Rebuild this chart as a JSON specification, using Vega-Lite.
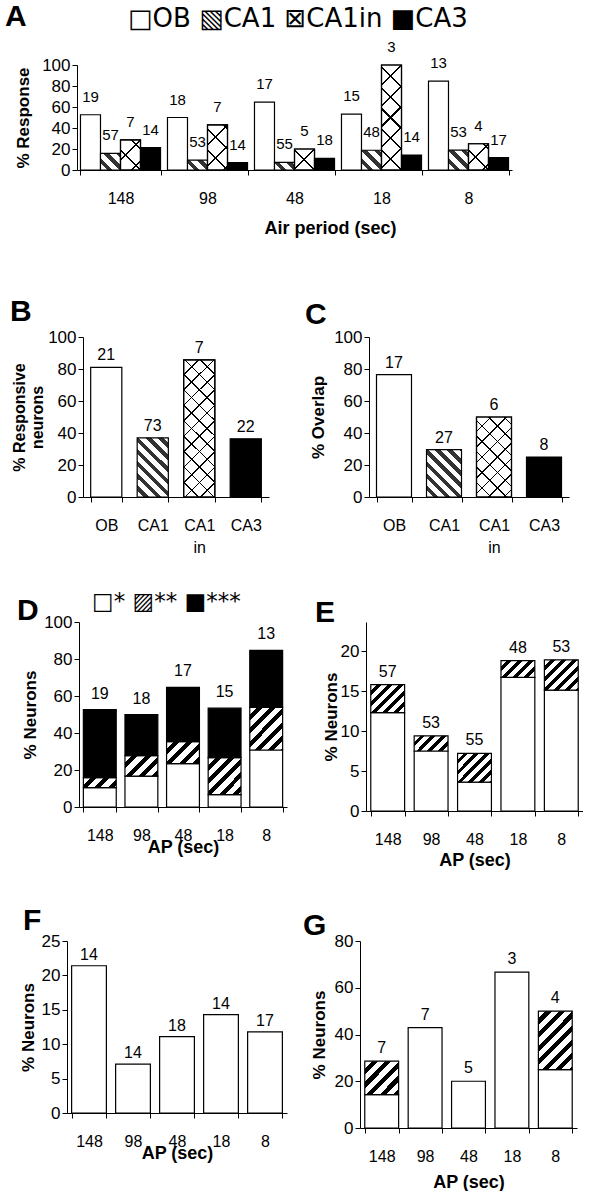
{
"$schema": "https://vega.github.io/schema/vega-lite/v6.json",
"background": "white",
"padding": {"left": 0, "top": 2, "right": 0, "bottom": 0},
"title": {"text": "□OB ▧CA1 ⊠CA1in ■CA3", "font": "DejaVu Sans", "fontSize": 26, "fontWeight": "normal", "anchor": "start", "frame": "group", "dx": 128, "dy": 30, "offset": 0},
"spacing": 0,
"vconcat": [
 {"bounds": "flush", "spacing": 76, "hconcat": [
  {"width": 1, "height": 232, "view": {"fill": "white", "stroke": null}, "data": {"values": []}, "mark": "point", "encoding": {}},
  {"width": 435, "height": 105,
   "title": {"text": "A", "dx": -72, "dy": -4},
   "data": {"name": "A"},
   "encoding": {
    "x": {"field": "ap", "type": "nominal", "sort": ["148","98","48","18","8"], "scale": {"paddingInner": 0.08, "paddingOuter": 0.04}, "axis": {"title": "Air period (sec)", "titleFontSize": 18, "titlePadding": 13, "titleX": 253}},
    "xOffset": {"field": "series", "type": "nominal", "scale": {"domain": ["OB","CA1","CA1in","CA3"], "paddingInner": 0, "paddingOuter": 0}},
    "y": {"field": "value", "type": "quantitative", "scale": {"domain": [0,100], "nice": false}, "axis": {"values": [0,20,40,60,80,100], "title": "% Response", "titlePadding": 9}}
   },
   "layer": [
    {"mark": "bar", "encoding": {"fill": {"condition": [
      {"test": "datum.series == 'CA3'", "value": "black"},
      {"test": "datum.series == 'CA1'", "value": {"expr": "{gradient:'linear',x1:0,y1:1,x2:6.25/(1+pow(datum.value*0.0525,2)),y2:1-datum.value*0.0525*6.25/(1+pow(datum.value*0.0525,2)),stops:[{offset:0,color:'#fff'},{offset:0.055,color:'#fff'},{offset:0.055,color:'#333'},{offset:0.1,color:'#333'},{offset:0.1,color:'#fff'},{offset:0.155,color:'#fff'},{offset:0.155,color:'#333'},{offset:0.2,color:'#333'},{offset:0.2,color:'#fff'},{offset:0.255,color:'#fff'},{offset:0.255,color:'#333'},{offset:0.3,color:'#333'},{offset:0.3,color:'#fff'},{offset:0.355,color:'#fff'},{offset:0.355,color:'#333'},{offset:0.4,color:'#333'},{offset:0.4,color:'#fff'},{offset:0.455,color:'#fff'},{offset:0.455,color:'#333'},{offset:0.5,color:'#333'},{offset:0.5,color:'#fff'},{offset:0.555,color:'#fff'},{offset:0.555,color:'#333'},{offset:0.6,color:'#333'},{offset:0.6,color:'#fff'},{offset:0.655,color:'#fff'},{offset:0.655,color:'#333'},{offset:0.7,color:'#333'},{offset:0.7,color:'#fff'},{offset:0.755,color:'#fff'},{offset:0.755,color:'#333'},{offset:0.8,color:'#333'},{offset:0.8,color:'#fff'},{offset:0.855,color:'#fff'},{offset:0.855,color:'#333'},{offset:0.9,color:'#333'},{offset:0.9,color:'#fff'},{offset:0.955,color:'#fff'},{offset:0.955,color:'#333'},{offset:1,color:'#333'}]}"}},
      {"test": "datum.series == 'CA1in'", "value": {"expr": "{gradient:'linear',x1:0,y1:1,x2:6.25/(1+pow(datum.value*0.0525,2)),y2:1-datum.value*0.0525*6.25/(1+pow(datum.value*0.0525,2)),stops:[{offset:0,color:'#fff'},{offset:0.15,color:'#fff'},{offset:0.15,color:'#000'},{offset:0.1667,color:'#000'},{offset:0.1667,color:'#fff'},{offset:0.3167,color:'#fff'},{offset:0.3167,color:'#000'},{offset:0.3333,color:'#000'},{offset:0.3333,color:'#fff'},{offset:0.4833,color:'#fff'},{offset:0.4833,color:'#000'},{offset:0.5,color:'#000'},{offset:0.5,color:'#fff'},{offset:0.65,color:'#fff'},{offset:0.65,color:'#000'},{offset:0.6667,color:'#000'},{offset:0.6667,color:'#fff'},{offset:0.8167,color:'#fff'},{offset:0.8167,color:'#000'},{offset:0.8333,color:'#000'},{offset:0.8333,color:'#fff'},{offset:0.9833,color:'#fff'},{offset:0.9833,color:'#000'},{offset:1,color:'#000'}]}"}}
     ], "value": "white"}}},
    {"transform": [{"filter": "datum.series == 'CA1in'"}], "mark": "bar", "encoding": {"fill": {"value": {"expr": "{gradient:'linear',x1:0,y1:0,x2:6.25/(1+pow(datum.value*0.0525,2)),y2:datum.value*0.0525*6.25/(1+pow(datum.value*0.0525,2)),stops:[{offset:0,color:'rgba(0,0,0,0)'},{offset:0.15,color:'rgba(0,0,0,0)'},{offset:0.15,color:'#000'},{offset:0.1667,color:'#000'},{offset:0.1667,color:'rgba(0,0,0,0)'},{offset:0.3167,color:'rgba(0,0,0,0)'},{offset:0.3167,color:'#000'},{offset:0.3333,color:'#000'},{offset:0.3333,color:'rgba(0,0,0,0)'},{offset:0.4833,color:'rgba(0,0,0,0)'},{offset:0.4833,color:'#000'},{offset:0.5,color:'#000'},{offset:0.5,color:'rgba(0,0,0,0)'},{offset:0.65,color:'rgba(0,0,0,0)'},{offset:0.65,color:'#000'},{offset:0.6667,color:'#000'},{offset:0.6667,color:'rgba(0,0,0,0)'},{offset:0.8167,color:'rgba(0,0,0,0)'},{offset:0.8167,color:'#000'},{offset:0.8333,color:'#000'},{offset:0.8333,color:'rgba(0,0,0,0)'},{offset:0.9833,color:'rgba(0,0,0,0)'},{offset:0.9833,color:'#000'},{offset:1,color:'#000'}]}"}}}},
    {"mark": {"type": "text", "baseline": "bottom", "dy": -10, "fontSize": 15}, "encoding": {"text": {"field": "n", "type": "quantitative"}}}
   ]
  }
 ]},
 {"bounds": "flush", "spacing": 82, "hconcat": [
  {"width": 1, "height": 254, "view": {"fill": "white", "stroke": null}, "data": {"values": []}, "mark": "point", "encoding": {}},
  {"bounds": "flush", "spacing": 100, "hconcat": [
   {"width": 186, "height": 160,
    "title": {"text": "B", "dx": -73, "dy": 3},
    "data": {"name": "B"},
    "encoding": {
     "x": {"field": "series", "type": "nominal", "sort": ["OB","CA1","CA1in","CA3"], "scale": {"paddingInner": 0.33, "paddingOuter": 0.165}, "axis": {"title": null, "labelExpr": "datum.value == 'CA1in' ? ['CA1', 'in'] : datum.label", "labelLineHeight": 22}},
     "y": {"field": "value", "type": "quantitative", "scale": {"domain": [0,100], "nice": false}, "axis": {"values": [0,20,40,60,80,100], "title": ["% Responsive", "neurons"], "titleFontSize": 16, "titlePadding": 2}}
    },
    "layer": [
     {"mark": "bar", "encoding": {"fill": {"condition": [
       {"test": "datum.series == 'CA3'", "value": "black"},
       {"test": "datum.series == 'CA1'", "value": {"expr": "{gradient:'linear',x1:0,y1:1,x2:5.4839/(1+pow(datum.value*0.051613,2)),y2:1-datum.value*0.051613*5.4839/(1+pow(datum.value*0.051613,2)),stops:[{offset:0,color:'#fff'},{offset:0.0393,color:'#fff'},{offset:0.0393,color:'#333'},{offset:0.0714,color:'#333'},{offset:0.0714,color:'#fff'},{offset:0.1107,color:'#fff'},{offset:0.1107,color:'#333'},{offset:0.1429,color:'#333'},{offset:0.1429,color:'#fff'},{offset:0.1821,color:'#fff'},{offset:0.1821,color:'#333'},{offset:0.2143,color:'#333'},{offset:0.2143,color:'#fff'},{offset:0.2536,color:'#fff'},{offset:0.2536,color:'#333'},{offset:0.2857,color:'#333'},{offset:0.2857,color:'#fff'},{offset:0.325,color:'#fff'},{offset:0.325,color:'#333'},{offset:0.3571,color:'#333'},{offset:0.3571,color:'#fff'},{offset:0.3964,color:'#fff'},{offset:0.3964,color:'#333'},{offset:0.4286,color:'#333'},{offset:0.4286,color:'#fff'},{offset:0.4679,color:'#fff'},{offset:0.4679,color:'#333'},{offset:0.5,color:'#333'},{offset:0.5,color:'#fff'},{offset:0.5393,color:'#fff'},{offset:0.5393,color:'#333'},{offset:0.5714,color:'#333'},{offset:0.5714,color:'#fff'},{offset:0.6107,color:'#fff'},{offset:0.6107,color:'#333'},{offset:0.6429,color:'#333'},{offset:0.6429,color:'#fff'},{offset:0.6821,color:'#fff'},{offset:0.6821,color:'#333'},{offset:0.7143,color:'#333'},{offset:0.7143,color:'#fff'},{offset:0.7536,color:'#fff'},{offset:0.7536,color:'#333'},{offset:0.7857,color:'#333'},{offset:0.7857,color:'#fff'},{offset:0.825,color:'#fff'},{offset:0.825,color:'#333'},{offset:0.8571,color:'#333'},{offset:0.8571,color:'#fff'},{offset:0.8964,color:'#fff'},{offset:0.8964,color:'#333'},{offset:0.9286,color:'#333'},{offset:0.9286,color:'#fff'},{offset:0.9679,color:'#fff'},{offset:0.9679,color:'#333'},{offset:1,color:'#333'}]}"}},
       {"test": "datum.series == 'CA1in'", "value": {"expr": "{gradient:'linear',x1:0,y1:1,x2:5.4839/(1+pow(datum.value*0.051613,2)),y2:1-datum.value*0.051613*5.4839/(1+pow(datum.value*0.051613,2)),stops:[{offset:0,color:'#fff'},{offset:0.0818,color:'#fff'},{offset:0.0818,color:'#000'},{offset:0.0909,color:'#000'},{offset:0.0909,color:'#fff'},{offset:0.1727,color:'#fff'},{offset:0.1727,color:'#000'},{offset:0.1818,color:'#000'},{offset:0.1818,color:'#fff'},{offset:0.2636,color:'#fff'},{offset:0.2636,color:'#000'},{offset:0.2727,color:'#000'},{offset:0.2727,color:'#fff'},{offset:0.3545,color:'#fff'},{offset:0.3545,color:'#000'},{offset:0.3636,color:'#000'},{offset:0.3636,color:'#fff'},{offset:0.4455,color:'#fff'},{offset:0.4455,color:'#000'},{offset:0.4545,color:'#000'},{offset:0.4545,color:'#fff'},{offset:0.5364,color:'#fff'},{offset:0.5364,color:'#000'},{offset:0.5455,color:'#000'},{offset:0.5455,color:'#fff'},{offset:0.6273,color:'#fff'},{offset:0.6273,color:'#000'},{offset:0.6364,color:'#000'},{offset:0.6364,color:'#fff'},{offset:0.7182,color:'#fff'},{offset:0.7182,color:'#000'},{offset:0.7273,color:'#000'},{offset:0.7273,color:'#fff'},{offset:0.8091,color:'#fff'},{offset:0.8091,color:'#000'},{offset:0.8182,color:'#000'},{offset:0.8182,color:'#fff'},{offset:0.9,color:'#fff'},{offset:0.9,color:'#000'},{offset:0.9091,color:'#000'},{offset:0.9091,color:'#fff'},{offset:0.9909,color:'#fff'},{offset:0.9909,color:'#000'},{offset:1,color:'#000'}]}"}}
      ], "value": "white"}}},
     {"transform": [{"filter": "datum.series == 'CA1in'"}], "mark": "bar", "encoding": {"fill": {"value": {"expr": "{gradient:'linear',x1:0,y1:0,x2:5.4839/(1+pow(datum.value*0.051613,2)),y2:datum.value*0.051613*5.4839/(1+pow(datum.value*0.051613,2)),stops:[{offset:0,color:'rgba(0,0,0,0)'},{offset:0.0818,color:'rgba(0,0,0,0)'},{offset:0.0818,color:'#000'},{offset:0.0909,color:'#000'},{offset:0.0909,color:'rgba(0,0,0,0)'},{offset:0.1727,color:'rgba(0,0,0,0)'},{offset:0.1727,color:'#000'},{offset:0.1818,color:'#000'},{offset:0.1818,color:'rgba(0,0,0,0)'},{offset:0.2636,color:'rgba(0,0,0,0)'},{offset:0.2636,color:'#000'},{offset:0.2727,color:'#000'},{offset:0.2727,color:'rgba(0,0,0,0)'},{offset:0.3545,color:'rgba(0,0,0,0)'},{offset:0.3545,color:'#000'},{offset:0.3636,color:'#000'},{offset:0.3636,color:'rgba(0,0,0,0)'},{offset:0.4455,color:'rgba(0,0,0,0)'},{offset:0.4455,color:'#000'},{offset:0.4545,color:'#000'},{offset:0.4545,color:'rgba(0,0,0,0)'},{offset:0.5364,color:'rgba(0,0,0,0)'},{offset:0.5364,color:'#000'},{offset:0.5455,color:'#000'},{offset:0.5455,color:'rgba(0,0,0,0)'},{offset:0.6273,color:'rgba(0,0,0,0)'},{offset:0.6273,color:'#000'},{offset:0.6364,color:'#000'},{offset:0.6364,color:'rgba(0,0,0,0)'},{offset:0.7182,color:'rgba(0,0,0,0)'},{offset:0.7182,color:'#000'},{offset:0.7273,color:'#000'},{offset:0.7273,color:'rgba(0,0,0,0)'},{offset:0.8091,color:'rgba(0,0,0,0)'},{offset:0.8091,color:'#000'},{offset:0.8182,color:'#000'},{offset:0.8182,color:'rgba(0,0,0,0)'},{offset:0.9,color:'rgba(0,0,0,0)'},{offset:0.9,color:'#000'},{offset:0.9091,color:'#000'},{offset:0.9091,color:'rgba(0,0,0,0)'},{offset:0.9909,color:'rgba(0,0,0,0)'},{offset:0.9909,color:'#000'},{offset:1,color:'#000'}]}"}}}},
     {"mark": {"type": "text", "baseline": "bottom", "dy": -4}, "encoding": {"text": {"field": "n", "type": "quantitative"}}}
    ]
   },
   {"width": 200, "height": 160,
    "title": {"text": "C", "dx": -64, "dy": 6},
    "data": {"name": "C"},
    "encoding": {
     "x": {"field": "series", "type": "nominal", "sort": ["OB","CA1","CA1in","CA3"], "scale": {"paddingInner": 0.3, "paddingOuter": 0.15}, "axis": {"title": null, "labelExpr": "datum.value == 'CA1in' ? ['CA1', 'in'] : datum.label", "labelLineHeight": 22}},
     "y": {"field": "value", "type": "quantitative", "scale": {"domain": [0,100], "nice": false}, "axis": {"values": [0,20,40,60,80,100], "title": "% Overlap", "titlePadding": 6}}
    },
    "layer": [
     {"mark": "bar", "encoding": {"fill": {"condition": [
       {"test": "datum.series == 'CA3'", "value": "black"},
       {"test": "datum.series == 'CA1'", "value": {"expr": "{gradient:'linear',x1:0,y1:1,x2:4.8571/(1+pow(datum.value*0.045714,2)),y2:1-datum.value*0.045714*4.8571/(1+pow(datum.value*0.045714,2)),stops:[{offset:0,color:'#fff'},{offset:0.0393,color:'#fff'},{offset:0.0393,color:'#333'},{offset:0.0714,color:'#333'},{offset:0.0714,color:'#fff'},{offset:0.1107,color:'#fff'},{offset:0.1107,color:'#333'},{offset:0.1429,color:'#333'},{offset:0.1429,color:'#fff'},{offset:0.1821,color:'#fff'},{offset:0.1821,color:'#333'},{offset:0.2143,color:'#333'},{offset:0.2143,color:'#fff'},{offset:0.2536,color:'#fff'},{offset:0.2536,color:'#333'},{offset:0.2857,color:'#333'},{offset:0.2857,color:'#fff'},{offset:0.325,color:'#fff'},{offset:0.325,color:'#333'},{offset:0.3571,color:'#333'},{offset:0.3571,color:'#fff'},{offset:0.3964,color:'#fff'},{offset:0.3964,color:'#333'},{offset:0.4286,color:'#333'},{offset:0.4286,color:'#fff'},{offset:0.4679,color:'#fff'},{offset:0.4679,color:'#333'},{offset:0.5,color:'#333'},{offset:0.5,color:'#fff'},{offset:0.5393,color:'#fff'},{offset:0.5393,color:'#333'},{offset:0.5714,color:'#333'},{offset:0.5714,color:'#fff'},{offset:0.6107,color:'#fff'},{offset:0.6107,color:'#333'},{offset:0.6429,color:'#333'},{offset:0.6429,color:'#fff'},{offset:0.6821,color:'#fff'},{offset:0.6821,color:'#333'},{offset:0.7143,color:'#333'},{offset:0.7143,color:'#fff'},{offset:0.7536,color:'#fff'},{offset:0.7536,color:'#333'},{offset:0.7857,color:'#333'},{offset:0.7857,color:'#fff'},{offset:0.825,color:'#fff'},{offset:0.825,color:'#333'},{offset:0.8571,color:'#333'},{offset:0.8571,color:'#fff'},{offset:0.8964,color:'#fff'},{offset:0.8964,color:'#333'},{offset:0.9286,color:'#333'},{offset:0.9286,color:'#fff'},{offset:0.9679,color:'#fff'},{offset:0.9679,color:'#333'},{offset:1,color:'#333'}]}"}},
       {"test": "datum.series == 'CA1in'", "value": {"expr": "{gradient:'linear',x1:0,y1:1,x2:4.8571/(1+pow(datum.value*0.045714,2)),y2:1-datum.value*0.045714*4.8571/(1+pow(datum.value*0.045714,2)),stops:[{offset:0,color:'#fff'},{offset:0.0818,color:'#fff'},{offset:0.0818,color:'#000'},{offset:0.0909,color:'#000'},{offset:0.0909,color:'#fff'},{offset:0.1727,color:'#fff'},{offset:0.1727,color:'#000'},{offset:0.1818,color:'#000'},{offset:0.1818,color:'#fff'},{offset:0.2636,color:'#fff'},{offset:0.2636,color:'#000'},{offset:0.2727,color:'#000'},{offset:0.2727,color:'#fff'},{offset:0.3545,color:'#fff'},{offset:0.3545,color:'#000'},{offset:0.3636,color:'#000'},{offset:0.3636,color:'#fff'},{offset:0.4455,color:'#fff'},{offset:0.4455,color:'#000'},{offset:0.4545,color:'#000'},{offset:0.4545,color:'#fff'},{offset:0.5364,color:'#fff'},{offset:0.5364,color:'#000'},{offset:0.5455,color:'#000'},{offset:0.5455,color:'#fff'},{offset:0.6273,color:'#fff'},{offset:0.6273,color:'#000'},{offset:0.6364,color:'#000'},{offset:0.6364,color:'#fff'},{offset:0.7182,color:'#fff'},{offset:0.7182,color:'#000'},{offset:0.7273,color:'#000'},{offset:0.7273,color:'#fff'},{offset:0.8091,color:'#fff'},{offset:0.8091,color:'#000'},{offset:0.8182,color:'#000'},{offset:0.8182,color:'#fff'},{offset:0.9,color:'#fff'},{offset:0.9,color:'#000'},{offset:0.9091,color:'#000'},{offset:0.9091,color:'#fff'},{offset:0.9909,color:'#fff'},{offset:0.9909,color:'#000'},{offset:1,color:'#000'}]}"}}
      ], "value": "white"}}},
     {"transform": [{"filter": "datum.series == 'CA1in'"}], "mark": "bar", "encoding": {"fill": {"value": {"expr": "{gradient:'linear',x1:0,y1:0,x2:4.8571/(1+pow(datum.value*0.045714,2)),y2:datum.value*0.045714*4.8571/(1+pow(datum.value*0.045714,2)),stops:[{offset:0,color:'rgba(0,0,0,0)'},{offset:0.0818,color:'rgba(0,0,0,0)'},{offset:0.0818,color:'#000'},{offset:0.0909,color:'#000'},{offset:0.0909,color:'rgba(0,0,0,0)'},{offset:0.1727,color:'rgba(0,0,0,0)'},{offset:0.1727,color:'#000'},{offset:0.1818,color:'#000'},{offset:0.1818,color:'rgba(0,0,0,0)'},{offset:0.2636,color:'rgba(0,0,0,0)'},{offset:0.2636,color:'#000'},{offset:0.2727,color:'#000'},{offset:0.2727,color:'rgba(0,0,0,0)'},{offset:0.3545,color:'rgba(0,0,0,0)'},{offset:0.3545,color:'#000'},{offset:0.3636,color:'#000'},{offset:0.3636,color:'rgba(0,0,0,0)'},{offset:0.4455,color:'rgba(0,0,0,0)'},{offset:0.4455,color:'#000'},{offset:0.4545,color:'#000'},{offset:0.4545,color:'rgba(0,0,0,0)'},{offset:0.5364,color:'rgba(0,0,0,0)'},{offset:0.5364,color:'#000'},{offset:0.5455,color:'#000'},{offset:0.5455,color:'rgba(0,0,0,0)'},{offset:0.6273,color:'rgba(0,0,0,0)'},{offset:0.6273,color:'#000'},{offset:0.6364,color:'#000'},{offset:0.6364,color:'rgba(0,0,0,0)'},{offset:0.7182,color:'rgba(0,0,0,0)'},{offset:0.7182,color:'#000'},{offset:0.7273,color:'#000'},{offset:0.7273,color:'rgba(0,0,0,0)'},{offset:0.8091,color:'rgba(0,0,0,0)'},{offset:0.8091,color:'#000'},{offset:0.8182,color:'#000'},{offset:0.8182,color:'rgba(0,0,0,0)'},{offset:0.9,color:'rgba(0,0,0,0)'},{offset:0.9,color:'#000'},{offset:0.9091,color:'#000'},{offset:0.9091,color:'rgba(0,0,0,0)'},{offset:0.9909,color:'rgba(0,0,0,0)'},{offset:0.9909,color:'#000'},{offset:1,color:'#000'}]}"}}}},
     {"mark": {"type": "text", "baseline": "bottom", "dy": -4}, "encoding": {"text": {"field": "n", "type": "quantitative"}}}
    ]
   }
  ]}
 ]},
 {"bounds": "flush", "spacing": 78, "hconcat": [
  {"width": 1, "height": 284, "view": {"fill": "white", "stroke": null}, "data": {"values": []}, "mark": "point", "encoding": {}},
  {"bounds": "flush", "spacing": 79,
   "title": {"text": "□*  ▨**  ■***", "font": "DejaVu Sans", "fontSize": 23, "fontWeight": "normal", "anchor": "start", "frame": "group", "dx": 13, "dy": 18, "offset": 0},
   "hconcat": [
   {"width": 208, "height": 185,
    "title": {"text": "D", "dx": -62, "dy": 17},
    "data": {"name": "D"},
    "encoding": {
     "x": {"field": "ap", "type": "nominal", "sort": ["148","98","48","18","8"], "scale": {"paddingInner": 0.21, "paddingOuter": 0.105}, "axis": {"title": "AP (sec)", "titleFontSize": 18, "titlePadding": -5}}
    },
    "layer": [
     {"mark": "bar", "encoding": {
       "y": {"field": "value", "type": "quantitative", "stack": "zero", "scale": {"domain": [0,100], "nice": false}, "axis": {"values": [0,20,40,60,80,100], "title": "% Neurons", "titlePadding": 4}},
       "detail": {"field": "sig", "type": "nominal"},
       "order": {"field": "sig", "type": "ordinal", "sort": "ascending"},
       "fill": {"condition": [
        {"test": "datum.sig == '***'", "value": "black"},
        {"test": "datum.sig == '**'", "value": {"expr": "{gradient:'linear',x1:0,y1:0,x2:2.4242/(1+pow(datum.value*0.05606,2)),y2:datum.value*0.05606*2.4242/(1+pow(datum.value*0.05606,2)),stops:[{offset:0,color:'#fff'},{offset:0.0917,color:'#fff'},{offset:0.0917,color:'#000'},{offset:0.1667,color:'#000'},{offset:0.1667,color:'#fff'},{offset:0.2583,color:'#fff'},{offset:0.2583,color:'#000'},{offset:0.3333,color:'#000'},{offset:0.3333,color:'#fff'},{offset:0.425,color:'#fff'},{offset:0.425,color:'#000'},{offset:0.5,color:'#000'},{offset:0.5,color:'#fff'},{offset:0.5917,color:'#fff'},{offset:0.5917,color:'#000'},{offset:0.6667,color:'#000'},{offset:0.6667,color:'#fff'},{offset:0.7583,color:'#fff'},{offset:0.7583,color:'#000'},{offset:0.8333,color:'#000'},{offset:0.8333,color:'#fff'},{offset:0.925,color:'#fff'},{offset:0.925,color:'#000'},{offset:1,color:'#000'}]}"}}
       ], "value": "white"}
     }},
     {"mark": {"type": "text", "baseline": "bottom", "dy": -8}, "encoding": {
       "y": {"aggregate": "sum", "field": "value", "type": "quantitative", "axis": {"values": [0,20,40,60,80,100], "title": "% Neurons", "titlePadding": 4}},
       "text": {"aggregate": "max", "field": "n", "type": "quantitative"}
     }}
    ]
   },
   {"width": 217, "height": 189,
    "title": {"text": "E", "dx": -51, "dy": 10},
    "data": {"name": "E"},
    "encoding": {
     "x": {"field": "ap", "type": "nominal", "sort": ["148","98","48","18","8"], "scale": {"paddingInner": 0.22, "paddingOuter": 0.11}, "axis": {"title": "AP (sec)", "titleFontSize": 18, "titlePadding": 4}}
    },
    "layer": [
     {"mark": "bar", "encoding": {
       "y": {"field": "value", "type": "quantitative", "stack": "zero", "scale": {"domain": [0,23.625], "nice": false}, "axis": {"values": [0,5,10,15,20], "title": "% Neurons", "titlePadding": 0}},
       "detail": {"field": "sig", "type": "nominal"},
       "order": {"field": "sig", "type": "ordinal", "sort": "ascending"},
       "fill": {"condition": [
        {"test": "datum.sig == '**'", "value": {"expr": "{gradient:'linear',x1:0,y1:0,x2:1.9412/(1+pow(datum.value*0.23529,2)),y2:datum.value*0.23529*1.9412/(1+pow(datum.value*0.23529,2)),stops:[{offset:0,color:'#fff'},{offset:0.0917,color:'#fff'},{offset:0.0917,color:'#000'},{offset:0.1667,color:'#000'},{offset:0.1667,color:'#fff'},{offset:0.2583,color:'#fff'},{offset:0.2583,color:'#000'},{offset:0.3333,color:'#000'},{offset:0.3333,color:'#fff'},{offset:0.425,color:'#fff'},{offset:0.425,color:'#000'},{offset:0.5,color:'#000'},{offset:0.5,color:'#fff'},{offset:0.5917,color:'#fff'},{offset:0.5917,color:'#000'},{offset:0.6667,color:'#000'},{offset:0.6667,color:'#fff'},{offset:0.7583,color:'#fff'},{offset:0.7583,color:'#000'},{offset:0.8333,color:'#000'},{offset:0.8333,color:'#fff'},{offset:0.925,color:'#fff'},{offset:0.925,color:'#000'},{offset:1,color:'#000'}]}"}}
       ], "value": "white"}
     }},
     {"mark": {"type": "text", "baseline": "bottom", "dy": -5}, "encoding": {
       "y": {"aggregate": "sum", "field": "value", "type": "quantitative", "axis": {"values": [0,5,10,15,20], "title": "% Neurons", "titlePadding": 0}},
       "text": {"aggregate": "max", "field": "n", "type": "quantitative"}
     }}
    ]
   }
  ]}
 ]},
 {"bounds": "flush", "spacing": 66, "hconcat": [
  {"width": 1, "height": 1, "view": {"fill": "white", "stroke": null}, "data": {"values": []}, "mark": "point", "encoding": {}},
  {"bounds": "flush", "spacing": 73, "hconcat": [
   {"width": 220, "height": 172,
    "title": {"text": "F", "dx": -44, "dy": 8},
    "data": {"name": "F"},
    "encoding": {
     "x": {"field": "ap", "type": "nominal", "sort": ["148","98","48","18","8"], "scale": {"paddingInner": 0.21, "paddingOuter": 0.105}, "axis": {"title": "AP (sec)", "titleFontSize": 18, "titlePadding": -5}},
     "y": {"field": "value", "type": "quantitative", "scale": {"domain": [0,25], "nice": false}, "axis": {"values": [0,5,10,15,20,25], "title": "% Neurons", "titlePadding": 4}}
    },
    "layer": [
     {"mark": {"type": "bar", "fill": "white"}},
     {"mark": {"type": "text", "baseline": "bottom", "dy": -3}, "encoding": {"text": {"field": "n", "type": "quantitative"}}}
    ]
   },
   {"width": 217, "height": 187,
    "title": {"text": "G", "dx": -57, "dy": 13},
    "data": {"name": "G"},
    "encoding": {
     "x": {"field": "ap", "type": "nominal", "sort": ["148","98","48","18","8"], "scale": {"paddingInner": 0.22, "paddingOuter": 0.11}, "axis": {"title": "AP (sec)", "titleFontSize": 18, "titlePadding": 9}}
    },
    "layer": [
     {"mark": "bar", "encoding": {
       "y": {"field": "value", "type": "quantitative", "stack": "zero", "scale": {"domain": [0,80], "nice": false}, "axis": {"values": [0,20,40,60,80], "title": "% Neurons", "titlePadding": 6}},
       "detail": {"field": "sig", "type": "nominal"},
       "order": {"field": "sig", "type": "ordinal", "sort": "ascending"},
       "fill": {"condition": [
        {"test": "datum.sig == '**'", "value": {"expr": "{gradient:'linear',x1:0,y1:0,x2:2.7941/(1+pow(datum.value*0.06875,2)),y2:datum.value*0.06875*2.7941/(1+pow(datum.value*0.06875,2)),stops:[{offset:0,color:'#fff'},{offset:0.0786,color:'#fff'},{offset:0.0786,color:'#000'},{offset:0.1429,color:'#000'},{offset:0.1429,color:'#fff'},{offset:0.2214,color:'#fff'},{offset:0.2214,color:'#000'},{offset:0.2857,color:'#000'},{offset:0.2857,color:'#fff'},{offset:0.3643,color:'#fff'},{offset:0.3643,color:'#000'},{offset:0.4286,color:'#000'},{offset:0.4286,color:'#fff'},{offset:0.5071,color:'#fff'},{offset:0.5071,color:'#000'},{offset:0.5714,color:'#000'},{offset:0.5714,color:'#fff'},{offset:0.65,color:'#fff'},{offset:0.65,color:'#000'},{offset:0.7143,color:'#000'},{offset:0.7143,color:'#fff'},{offset:0.7929,color:'#fff'},{offset:0.7929,color:'#000'},{offset:0.8571,color:'#000'},{offset:0.8571,color:'#fff'},{offset:0.9357,color:'#fff'},{offset:0.9357,color:'#000'},{offset:1,color:'#000'}]}"}}
       ], "value": "white"}
     }},
     {"mark": {"type": "text", "baseline": "bottom", "dy": -5}, "encoding": {
       "y": {"aggregate": "sum", "field": "value", "type": "quantitative", "axis": {"values": [0,20,40,60,80], "title": "% Neurons", "titlePadding": 6}},
       "text": {"aggregate": "max", "field": "n", "type": "quantitative"}
     }}
    ]
   }
  ]}
 ]}
],
"datasets": {
 "A": [
  {"ap":"148","series":"OB","value":52.6,"n":19},
  {"ap":"148","series":"CA1","value":15.8,"n":57},
  {"ap":"148","series":"CA1in","value":28.6,"n":7},
  {"ap":"148","series":"CA3","value":21.4,"n":14},
  {"ap":"98","series":"OB","value":50.0,"n":18},
  {"ap":"98","series":"CA1","value":9.4,"n":53},
  {"ap":"98","series":"CA1in","value":42.9,"n":7},
  {"ap":"98","series":"CA3","value":7.1,"n":14},
  {"ap":"48","series":"OB","value":64.7,"n":17},
  {"ap":"48","series":"CA1","value":7.3,"n":55},
  {"ap":"48","series":"CA1in","value":20.0,"n":5},
  {"ap":"48","series":"CA3","value":11.1,"n":18},
  {"ap":"18","series":"OB","value":53.3,"n":15},
  {"ap":"18","series":"CA1","value":18.8,"n":48},
  {"ap":"18","series":"CA1in","value":100,"n":3},
  {"ap":"18","series":"CA3","value":14.3,"n":14},
  {"ap":"8","series":"OB","value":84.6,"n":13},
  {"ap":"8","series":"CA1","value":18.9,"n":53},
  {"ap":"8","series":"CA1in","value":25.0,"n":4},
  {"ap":"8","series":"CA3","value":11.8,"n":17}
 ],
 "B": [
  {"series":"OB","value":81.0,"n":21},
  {"series":"CA1","value":37.0,"n":73},
  {"series":"CA1in","value":85.7,"n":7},
  {"series":"CA3","value":36.4,"n":22}
 ],
 "C": [
  {"series":"OB","value":76.5,"n":17},
  {"series":"CA1","value":29.6,"n":27},
  {"series":"CA1in","value":50.0,"n":6},
  {"series":"CA3","value":25.0,"n":8}
 ],
 "D": [
  {"ap":"148","sig":"*","value":10.5,"n":19},
  {"ap":"148","sig":"**","value":5.3,"n":19},
  {"ap":"148","sig":"***","value":36.8,"n":19},
  {"ap":"98","sig":"*","value":16.7,"n":18},
  {"ap":"98","sig":"**","value":11.1,"n":18},
  {"ap":"98","sig":"***","value":22.2,"n":18},
  {"ap":"48","sig":"*","value":23.5,"n":17},
  {"ap":"48","sig":"**","value":11.8,"n":17},
  {"ap":"48","sig":"***","value":29.4,"n":17},
  {"ap":"18","sig":"*","value":6.7,"n":15},
  {"ap":"18","sig":"**","value":20.0,"n":15},
  {"ap":"18","sig":"***","value":26.7,"n":15},
  {"ap":"8","sig":"*","value":30.8,"n":13},
  {"ap":"8","sig":"**","value":23.1,"n":13},
  {"ap":"8","sig":"***","value":30.8,"n":13}
 ],
 "E": [
  {"ap":"148","sig":"*","value":12.3,"n":57},
  {"ap":"148","sig":"**","value":3.5,"n":57},
  {"ap":"98","sig":"*","value":7.5,"n":53},
  {"ap":"98","sig":"**","value":1.9,"n":53},
  {"ap":"48","sig":"*","value":3.6,"n":55},
  {"ap":"48","sig":"**","value":3.6,"n":55},
  {"ap":"18","sig":"*","value":16.7,"n":48},
  {"ap":"18","sig":"**","value":2.1,"n":48},
  {"ap":"8","sig":"*","value":15.1,"n":53},
  {"ap":"8","sig":"**","value":3.8,"n":53}
 ],
 "F": [
  {"ap":"148","value":21.4,"n":14},
  {"ap":"98","value":7.1,"n":14},
  {"ap":"48","value":11.1,"n":18},
  {"ap":"18","value":14.3,"n":14},
  {"ap":"8","value":11.8,"n":17}
 ],
 "G": [
  {"ap":"148","sig":"*","value":14.3,"n":7},
  {"ap":"148","sig":"**","value":14.3,"n":7},
  {"ap":"98","sig":"*","value":42.9,"n":7},
  {"ap":"48","sig":"*","value":20.0,"n":5},
  {"ap":"18","sig":"*","value":66.7,"n":3},
  {"ap":"8","sig":"*","value":25.0,"n":4},
  {"ap":"8","sig":"**","value":25.0,"n":4}
 ]
},
"config": {
 "view": {"stroke": null},
 "font": "Liberation Sans",
 "axis": {"grid": false, "domainColor": "black", "tickColor": "black", "labelColor": "black", "titleColor": "black", "labelFont": "Liberation Sans", "titleFont": "Liberation Sans", "labelFontSize": 16, "titleFontSize": 17, "titleFontWeight": "bold", "tickSize": 5, "labelPadding": 2},
 "axisX": {"labelAngle": 0, "tickBand": "extent", "labelPadding": 15},
 "axisY": {"labelFontSize": 17},
 "title": {"font": "Liberation Sans", "fontSize": 30, "fontWeight": "bold", "anchor": "start", "frame": "group", "color": "black", "offset": 0},
 "bar": {"stroke": "black", "strokeWidth": 1.2},
 "text": {"font": "Liberation Sans", "fontSize": 16, "color": "black"}
}
}
